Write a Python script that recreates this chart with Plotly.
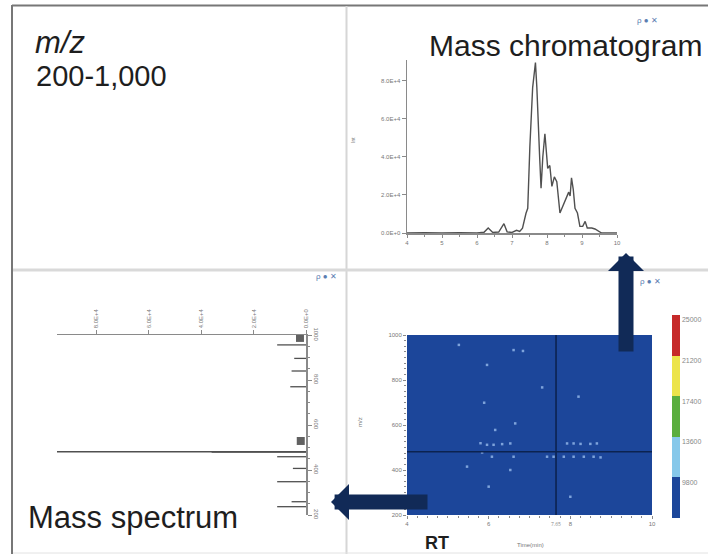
import plotly.graph_objects as go

W, H = 708, 554


def px(x):
    return x / W


def py(y):
    return 1 - y / H


# ---------------- data ----------------
# Mass chromatogram (retention time in min, intensity)
chrom_time = [4.00, 4.50, 5.00, 5.50, 6.00, 6.20, 6.32, 6.45, 6.62, 6.77, 6.86, 7.00,
              7.13, 7.22, 7.30, 7.36, 7.40, 7.45, 7.51, 7.59, 7.67, 7.71, 7.75, 7.79,
              7.83, 7.88, 7.94, 8.02, 8.08, 8.14, 8.21, 8.28, 8.37, 8.45, 8.53, 8.62,
              8.66, 8.70, 8.75, 8.80, 8.87, 8.94, 9.02, 9.09, 9.15, 9.28, 9.37, 9.47,
              9.56, 10.00]
chrom_intensity = [0, 200, 0, 200, 0, 400, 2600, 300, 500, 4900, 600, 300,
                   1400, 800, 2500, 7500, 10400, 13000, 45200, 76500, 89600, 76500, 52200, 40000,
                   23500, 40000, 52200, 34000, 35500, 24500, 29500, 27000, 10500, 14000, 17500, 21500,
                   19500, 29000, 23000, 13000, 10500, 3500, 3500, 6100, 2600, 2600, 2100, 900,
                   0, 0]
chrom_ytick_vals = [0, 20000, 40000, 60000, 80000]
chrom_ytick_text = ["0.0E+0", "2.0E+4", "4.0E+4", "6.0E+4", "8.0E+4"]
time_ticks = [4, 5, 6, 7, 8, 9, 10]

# Mass spectrum at the selected retention time
spec_mz = [956, 896, 840, 770, 481, 479, 459, 407, 348, 259, 237]
spec_intensity = [11000, 4500, 5500, 6000, 95000, 36000, 11000, 5000, 11000, 5500, 11000]
spec_label_mz = [987, 529]
spec_label_intensity = [2300, 2000]
spec_xtick_vals = [0, 20000, 40000, 60000, 80000]
spec_xtick_text = ["0.0E+0", "2.0E+4", "4.0E+4", "6.0E+4", "8.0E+4"]
mz_ticks = [200, 400, 600, 800, 1000]

# 2D map (time x m/z)
heat_time_edges = [4, 6, 8, 10]
heat_mz_edges = [200, 600, 1000]
heat_z = [[8200, 8300, 8100],
          [8150, 8250, 8200]]
speck_time = [5.27, 6.61, 6.84, 5.96, 7.31, 8.20, 5.89, 6.65, 6.16, 5.80, 5.96, 6.12,
              6.33, 6.53, 7.92, 8.08, 8.25, 8.49, 8.65, 5.84, 6.08, 6.61, 7.43, 7.59,
              7.84, 8.08, 8.33, 8.57, 8.74, 6.00, 8.00, 6.53, 5.47]
speck_mz = [956, 933, 929, 867, 767, 726, 699, 607, 578, 519, 512, 512,
            515, 518, 518, 518, 516, 516, 518, 478, 459, 459, 459, 459,
            459, 459, 459, 459, 456, 326, 281, 400, 415]
crosshair_time = 7.65
crosshair_mz = 481
cbar_ticks = [9800, 13600, 17400, 21200, 25000]
cbar_ticktext = ["9800", "13600", "17400", "21200", "25000"]
heat_zmin, heat_zmax = 6000, 25000

# ---------------- styles ----------------
AX = "#8a8a8a"
TICKF = dict(size=6, color="#777", family="Liberation Sans, Arial, sans-serif")
NAVY = "#112a57"
TXT = dict(family="Liberation Sans, Arial, sans-serif", color="#1e1e1e")

fig = go.Figure()

# chromatogram line
fig.add_trace(go.Scatter(x=chrom_time, y=chrom_intensity, mode="lines",
                         line=dict(color="#505050", width=1.4),
                         xaxis="x", yaxis="y", hoverinfo="skip"))

# spectrum sticks (horizontal, growing leftwards)
sx, sy = [], []
for m, v in zip(spec_mz, spec_intensity):
    sx += [0, v, None]
    sy += [m, m, None]
fig.add_trace(go.Scatter(x=sx, y=sy, mode="lines", line=dict(color="#505050", width=1.3),
                         xaxis="x2", yaxis="y2", hoverinfo="skip"))
fig.add_trace(go.Scatter(x=spec_label_intensity, y=spec_label_mz, mode="markers",
                         marker=dict(symbol="square", size=8, color="#3a3a3a", opacity=0.8),
                         xaxis="x2", yaxis="y2", hoverinfo="skip"))
fig.add_trace(go.Scatter(x=[0], y=[1013], mode="markers", cliponaxis=False,
                         marker=dict(symbol="triangle-down", size=6, color="#111"),
                         xaxis="x2", yaxis="y2", hoverinfo="skip"))

# heatmap
colorscale = [[0.0, "#1c469a"], [0.2, "#1c469a"],
              [0.2, "#86c8ea"], [0.4, "#86c8ea"],
              [0.4, "#5aae3e"], [0.6, "#5aae3e"],
              [0.6, "#ece44a"], [0.8, "#ece44a"],
              [0.8, "#c62a2a"], [1.0, "#c62a2a"]]
fig.add_trace(go.Heatmap(x=heat_time_edges, y=heat_mz_edges, z=heat_z,
                         zmin=heat_zmin, zmax=heat_zmax, colorscale=colorscale,
                         xaxis="x3", yaxis="y3", hoverinfo="skip",
                         colorbar=dict(x=px(672), xanchor="left", y=py(315), yanchor="top",
                                       len=(518 - 315) / H, lenmode="fraction",
                                       thickness=8, outlinewidth=0, xpad=0, ypad=0,
                                       tickvals=cbar_ticks, ticktext=cbar_ticktext, ticks="",
                                       ticklabelposition="outside bottom",
                                       tickfont=dict(size=7, color="#888",
                                                     family="Liberation Sans, Arial, sans-serif"))))
fig.add_trace(go.Scatter(x=speck_time, y=speck_mz, mode="markers",
                         marker=dict(symbol="square", size=2.5, color="#8fb4e6", opacity=0.85),
                         xaxis="x3", yaxis="y3", hoverinfo="skip"))
fig.add_trace(go.Scatter(x=[crosshair_time, crosshair_time], y=[200, 1000], mode="lines",
                         line=dict(color="#0c2350", width=1.6),
                         xaxis="x3", yaxis="y3", hoverinfo="skip"))
fig.add_trace(go.Scatter(x=[4, 10], y=[crosshair_mz, crosshair_mz], mode="lines",
                         line=dict(color="#0c2350", width=1.6),
                         xaxis="x3", yaxis="y3", hoverinfo="skip"))
fig.add_trace(go.Scatter(x=[crosshair_time, 10.17, 3.83], y=[1027, crosshair_mz, crosshair_mz],
                         mode="markers", cliponaxis=False,
                         marker=dict(symbol=["triangle-down", "triangle-left", "triangle-right-open"],
                                     size=[9, 9, 7], color=["#111", "#111", "#999"]),
                         xaxis="x3", yaxis="y3", hoverinfo="skip"))

common = dict(showgrid=False, zeroline=False, showline=True, linecolor=AX, linewidth=1.5,
              ticks="outside", tickcolor=AX, tickfont=TICKF, automargin=False)

fig.update_layout(
    width=W, height=H, margin=dict(l=0, r=0, t=0, b=0, pad=0, autoexpand=False),
    paper_bgcolor="white", plot_bgcolor="rgba(0,0,0,0)", showlegend=False,
    xaxis=dict(domain=[px(407), px(617)], range=[4, 10], anchor="y", tickvals=time_ticks,
               ticklen=3, minor=dict(ticks="outside", dtick=0.5, ticklen=2, tickcolor=AX), **common),
    yaxis=dict(domain=[py(233), py(60)], range=[0, 91000], anchor="x",
               tickvals=chrom_ytick_vals, ticktext=chrom_ytick_text, ticklen=4, **common),
    xaxis2=dict(domain=[px(57), px(306)], range=[95000, 0], anchor="y2", side="top",
                tickvals=spec_xtick_vals, ticktext=spec_xtick_text, tickangle=-90,
                ticklen=4, **common),
    yaxis2=dict(domain=[py(515), py(335)], range=[200, 1000], anchor="x2", side="right",
                tickvals=mz_ticks, tickangle=90, ticklen=4,
                minor=dict(ticks="outside", dtick=50, ticklen=2, tickcolor=AX), **common),
    xaxis3=dict(domain=[px(407), px(652)], range=[4, 10], anchor="y3", tickvals=[4, 6, 8, 10],
                ticklen=3, minor=dict(ticks="outside", dtick=0.25, ticklen=2, tickcolor=AX),
                **{**common, "showline": False}),
    yaxis3=dict(domain=[py(515), py(335)], range=[200, 1000], anchor="x3", tickvals=mz_ticks,
                ticklen=3, minor=dict(ticks="outside", dtick=25, ticklen=2, tickcolor=AX),
                **{**common, "showline": False}),
)

# panel frame and dividers
shapes = [
    dict(type="line", xref="paper", yref="paper", x0=px(12), x1=1, y0=py(5.5), y1=py(5.5),
         line=dict(color="#777", width=2)),
    dict(type="line", xref="paper", yref="paper", x0=px(12), x1=px(12), y0=py(5), y1=0,
         line=dict(color="#777", width=2)),
    dict(type="line", xref="paper", yref="paper", x0=px(346.5), x1=px(346.5), y0=py(6), y1=0,
         line=dict(color="#d6d6d6", width=2)),
    dict(type="line", xref="paper", yref="paper", x0=px(13), x1=1, y0=py(270), y1=py(270),
         line=dict(color="#d9d9d9", width=3)),
    dict(type="line", xref="paper", yref="paper", x0=px(13), x1=1, y0=py(553), y1=py(553),
         line=dict(color="#e2e2e2", width=1)),
]
fig.update_layout(shapes=shapes)

ann = []


def text(x, y, s, size, bold=False, italic=False, color=None, xanchor="left", **kw):
    t = s
    if italic:
        t = "<i>" + t + "</i>"
    if bold:
        t = "<b>" + t + "</b>"
    f = dict(TXT, size=size)
    if color:
        f["color"] = color
    ann.append(dict(xref="paper", yref="paper", x=px(x), y=py(y), text=t, showarrow=False,
                    xanchor=xanchor, yanchor="middle", font=f, **kw))


text(33, 43, "m/z", 31, italic=True)
text(34, 76, "200-1,000", 29)
text(427, 45, "Mass chromatogram", 30)
text(26, 517, "Mass spectrum", 31)
text(423, 543, "RT", 18, bold=True)

# axis titles (tiny)
text(530, 545, "Time(min)", 6, color="#777", xanchor="center")
text(360, 422, "m/z", 6, color="#777", xanchor="center", textangle=-90)
text(353, 140, "Int", 5, color="#777", xanchor="center", textangle=-90)

# crosshair time readout
ann.append(dict(xref="x3", yref="paper", x=crosshair_time, y=py(524), text="7.65",
                showarrow=False, font=dict(size=5, color="#888"), yanchor="middle"))

# toolbar icons
for x0, y0 in [(647, 21), (326, 276), (650, 281)]:
    text(x0, y0, "ρ ● ✕", 8, color="#5b7db1", xanchor="center")

# big navy arrows
ann.append(dict(xref="paper", yref="paper", x=px(626), y=py(253), ax=0, ay=100,
                axref="pixel", ayref="pixel", text="", showarrow=True,
                arrowhead=1, arrowsize=0.4, arrowwidth=15, arrowcolor=NAVY, standoff=0))
ann.append(dict(xref="paper", yref="paper", x=px(331), y=py(502), ax=98, ay=0,
                axref="pixel", ayref="pixel", text="", showarrow=True,
                arrowhead=1, arrowsize=0.4, arrowwidth=15, arrowcolor=NAVY, standoff=0))

fig.update_layout(annotations=ann)

fig.write_html(
    "out.html",
    config={"displayModeBar": False, "staticPlot": True},
    post_script="document.body.style.margin='0';document.body.style.padding='0';"
                "document.body.style.overflow='hidden';",
)
